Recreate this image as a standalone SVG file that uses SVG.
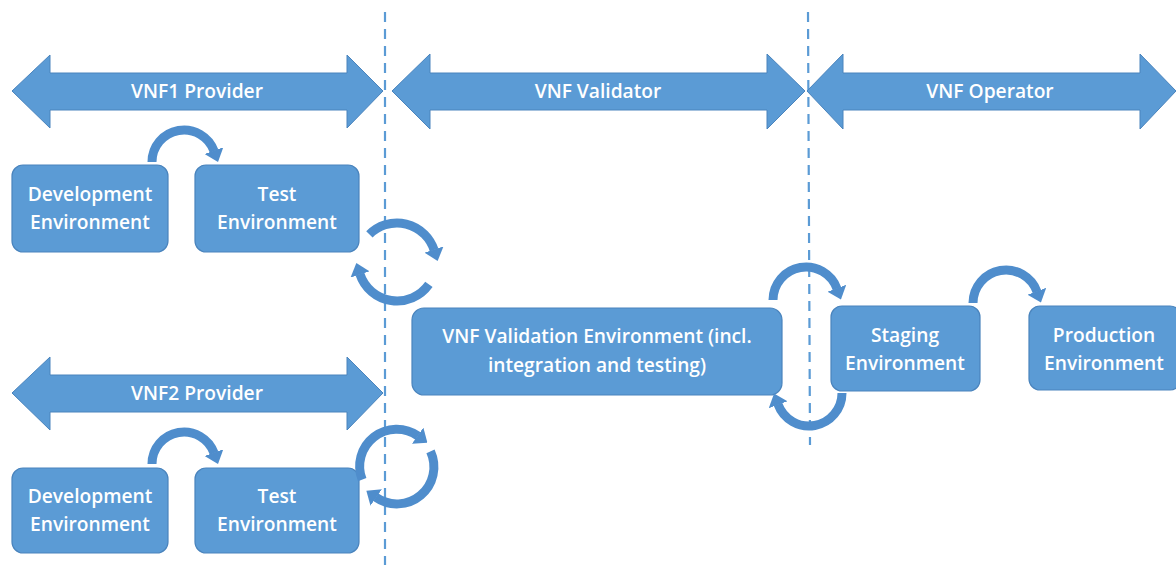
<svg xmlns="http://www.w3.org/2000/svg" width="1176" height="565" viewBox="0 0 1176 565">
<defs>
<style>
.band{fill:#5b9bd5;stroke:#4a84bd;stroke-width:1}
.box{fill:#5b9bd5;stroke:#4a84bd;stroke-width:1.2}
.t{font-family:"Open Sans","Liberation Sans",sans-serif;font-size:19.2px;font-weight:600;fill:#ffffff;text-anchor:middle}
.div{stroke:#5b9bd5;stroke-width:2.2;stroke-dasharray:10 7;fill:none}
.arc{fill:none;stroke:#4f8dcc;stroke-width:9;marker-end:url(#head)}
</style>
<marker id="head" markerUnits="userSpaceOnUse" viewBox="0 0 12 20" markerWidth="12" markerHeight="20" refX="0.5" refY="10" orient="auto">
<path d="M0,0 L12,10 L0,20 Z" fill="#4f8dcc"/>
</marker>
</defs>
<rect width="1176" height="565" fill="#ffffff"/>

<g id="dividers">
<line class="div" x1="385" y1="12" x2="385" y2="565"/>
<line class="div" x1="808" y1="12" x2="810" y2="445"/>
</g>

<g id="vnf1-provider">
<path class="band" d="M12,91 L50,55 L50,73 L347,73 L347,55 L383,91 L347,128 L347,110 L50,110 L50,128 Z"/>
<text class="t" x="197" y="98">VNF1 Provider</text>
</g>
<g id="vnf-validator">
<path class="band" d="M392,91 L430,54 L430,73 L767,73 L767,54 L805,91 L767,129 L767,110 L430,110 L430,129 Z"/>
<text class="t" x="598" y="98">VNF Validator</text>
</g>
<g id="vnf-operator">
<path class="band" d="M807,91 L843,54 L843,73 L1140,73 L1140,54 L1176,91 L1140,129 L1140,110 L843,110 L843,129 Z"/>
<text class="t" x="990" y="98">VNF Operator</text>
</g>
<g id="vnf2-provider">
<path class="band" d="M12,393 L50,357 L50,375 L347,375 L347,357 L383,393 L347,430 L347,412 L50,412 L50,430 Z"/>
<text class="t" x="197" y="400">VNF2 Provider</text>
</g>

<g id="dev-env-1">
<rect class="box" x="12" y="165" width="156" height="87" rx="11"/>
<text class="t" x="90" y="201">Development</text>
<text class="t" x="90" y="229">Environment</text>
</g>
<g id="test-env-1">
<rect class="box" x="195" y="165" width="164" height="87" rx="11"/>
<text class="t" x="277" y="201">Test</text>
<text class="t" x="277" y="229">Environment</text>
</g>
<g id="dev-env-2">
<rect class="box" x="12" y="468" width="156" height="85" rx="11"/>
<text class="t" x="90" y="503">Development</text>
<text class="t" x="90" y="531">Environment</text>
</g>
<g id="test-env-2">
<rect class="box" x="195" y="468" width="164" height="85" rx="11"/>
<text class="t" x="277" y="503">Test</text>
<text class="t" x="277" y="531">Environment</text>
</g>
<g id="validation-env">
<rect class="box" x="412" y="308" width="370" height="87" rx="12"/>
<text class="t" x="597" y="343">VNF Validation Environment (incl.</text>
<text class="t" x="597" y="372">integration and testing)</text>
</g>
<g id="staging-env">
<rect class="box" x="831" y="306" width="149" height="85" rx="11"/>
<text class="t" x="905" y="342">Staging</text>
<text class="t" x="905" y="370">Environment</text>
</g>
<g id="production-env">
<rect class="box" x="1029" y="306" width="152" height="84" rx="11"/>
<text class="t" x="1104" y="342">Production</text>
<text class="t" x="1104" y="370">Environment</text>
</g>

<g id="connectors">
<path class="arc" d="M152,162 A32,32 0 0 1 214.1,151.1"/>
<path class="arc" d="M152,464 A32,32 0 0 1 214.1,453.1"/>
<path class="arc" d="M773,300 A33,33 0 0 1 837,288.7"/>
<path class="arc" d="M842,393 A33,33 0 0 1 778,404.3"/>
<path class="arc" d="M973,303 A33,33 0 0 1 1037,291.7"/>
<path class="arc" d="M369.4,234.4 A39,39 0 0 1 434.1,250"/>
<path class="arc" d="M428.9,284.4 A39,39 0 0 1 359.9,274"/>
<path class="arc" d="M362.2,479.7 A37,37 0 0 1 418,436"/>
<path class="arc" d="M430.5,451.4 A37,37 0 0 1 375.8,497.3"/>
</g>
</svg>
